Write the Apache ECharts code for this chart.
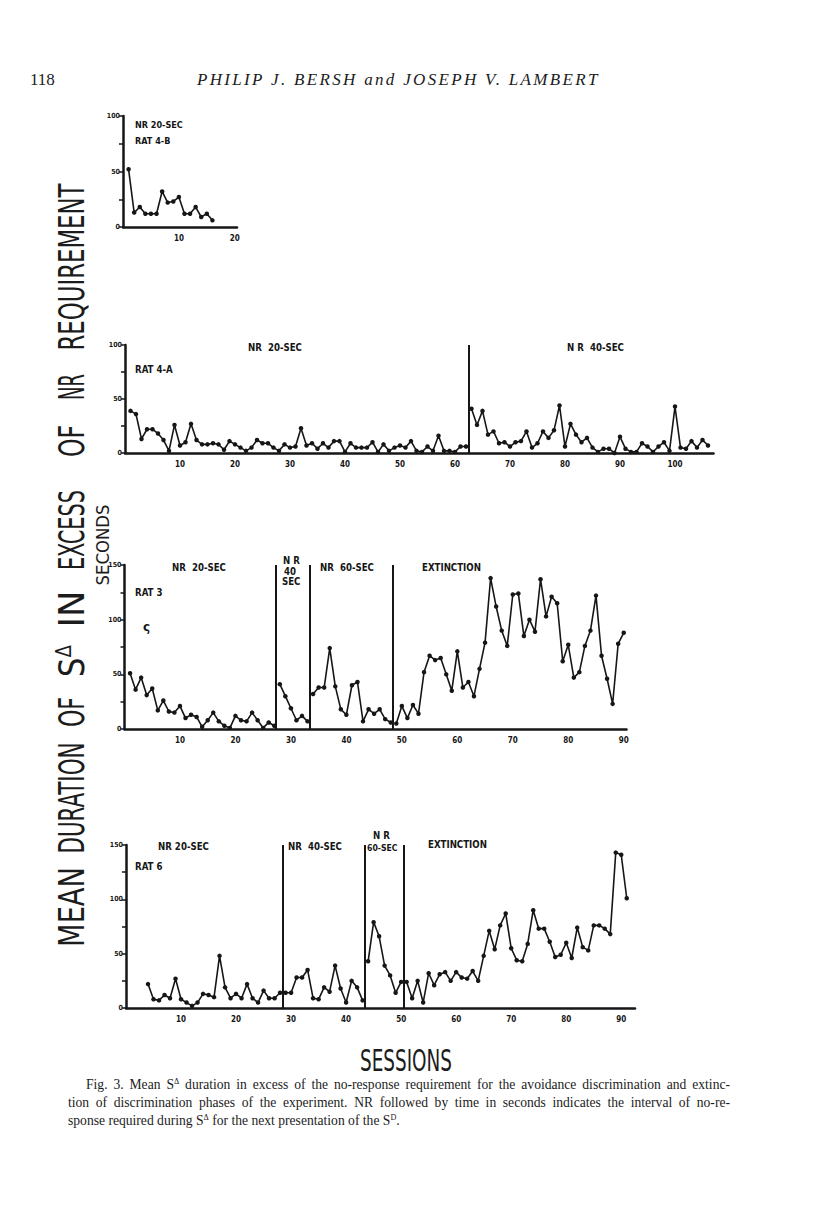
<!DOCTYPE html>
<html>
<head>
<meta charset="UTF-8">
<title>Fig. 3 - Mean S-delta duration</title>
<script src="https://cdn.jsdelivr.net/npm/echarts@6/dist/echarts.min.js"></script>
<style>
  body { margin: 0; background: #fff; }
  #page { position: relative; width: 816px; height: 1207px; overflow: hidden; background: #fff; }
  #main { position: absolute; left: 0; top: 0; width: 816px; height: 1207px; }
  .serif { position: absolute; white-space: nowrap; color: #1c1c1c;
           font-family: "Liberation Serif", "DejaVu Serif", serif; }
  .cond { position: absolute; white-space: nowrap; color: #1c1c1c;
          font-family: "Liberation Sans Narrow", "DejaVu Sans Condensed", "Liberation Sans", sans-serif; }
  .cap { font-size: 13.6px; line-height: 16px; text-align: justify; text-align-last: justify; }
  .cap sup, .sup { font-size: 0.6em; vertical-align: 0.6em; line-height: 0; }
</style>
</head>
<body>
<div id="page">
  <div id="main"></div>
  <div class="serif" style="left:30px;top:70px;font-size:17px;">118</div>
  <div class="serif" id="authors" style="left:197px;top:70px;font-size:17px;font-style:italic;">PHILIP J. BERSH and JOSEPH V. LAMBERT</div>
  <div class="cond" id="sessions" style="left:360px;top:1043px;font-size:30px;">SESSIONS</div>
  <div class="serif cap" style="left:86px;top:1077px;width:644px;">Fig. 3. Mean S<sup>Δ</sup> duration in excess of the no-response requirement for the avoidance discrimination and extinc-</div>
  <div class="serif cap" style="left:68px;top:1095px;width:662px;">tion of discrimination phases of the experiment. NR followed by time in seconds indicates the interval of no-re-</div>
  <div class="serif" style="left:68px;top:1113px;font-size:13.6px;line-height:16px;">sponse required during S<sup style="font-size:0.6em;vertical-align:0.6em;line-height:0">Δ</sup> for the next presentation of the S<sup style="font-size:0.6em;vertical-align:0.6em;line-height:0">D</sup>.</div>
</div>
<script type="text/javascript">
// sessions start numbers and mean S-delta duration (sec)
var rat4bStart = 1;
var rat4b = [52, 13, 18, 12, 12, 12, 32, 22, 23, 27, 12, 12, 18, 9, 12, 6];

var rat4aStart = 1;
var rat4a = [39, 36, 13, 22, 22, 18, 12, 2, 26, 7, 10, 27, 12, 8, 8, 9, 8, 3, 11, 8,
             5, 2, 5, 12, 9, 9, 5, 2, 8, 5, 6, 23, 7, 9, 4, 9, 5, 11, 11, 1,
             9, 5, 5, 5, 10, 1, 8, 2, 5, 7, 5, 11, 2, 1, 6, 2, 16, 2, 2, 1, 6, 6,
             41, 26, 39, 17, 20, 9, 10, 6, 10, 11, 20, 5, 9, 20, 14, 21, 44, 6, 27, 17,
             10, 14, 5, 1, 4, 4, 0, 15, 4, 1, 1, 9, 6, 1, 6, 10, 2, 43, 5, 4, 11, 5, 12, 7];
var rat4aBreaks = [62.5];

var rat3Start = 1;
var rat3 = [51, 36, 47, 31, 37, 17, 26, 16, 15, 21, 10, 13, 11, 2, 8, 15, 7, 3, 1, 12, 8, 7, 15, 8, 1, 6, 3,
            41, 30, 19, 8, 12, 7,
            32, 38, 38, 74, 39, 18, 13, 40, 43, 7, 18, 14, 18, 9, 6,
            5, 21, 10, 22, 14, 52, 67, 63, 65, 50, 35, 71, 38, 43, 30, 55, 79, 138, 112, 90,
            76, 123, 124, 85, 100, 89, 137, 103, 121, 115, 62, 77, 47, 52, 76, 90, 122, 67, 46, 23, 78, 88];
var rat3Breaks = [27.3, 33.4, 48.4];

var rat6Start = 4;
var rat6 = [22, 8, 7, 12, 9, 27, 8, 5, 2, 5, 13, 12, 10, 48, 19, 9, 13, 9, 22, 9, 5, 16, 9, 9, 14,
            14, 14, 28, 28, 35, 9, 8, 19, 15, 39, 18, 5, 25, 19, 7,
            43, 79, 66, 39, 30, 14, 24,
            24, 9, 25, 5, 32, 21, 31, 33, 25, 33, 28, 27, 34, 25, 48, 71, 54, 76, 87, 55,
            44, 43, 59, 90, 73, 73, 61, 47, 49, 60, 46, 74, 56, 53, 76, 76, 73, 68, 143, 141, 101];
var rat6Breaks = [28.4, 43.4, 50.4];

var ink = '#161616';
var handFont = '"Liberation Sans Narrow", "DejaVu Sans Condensed", "Liberation Sans", sans-serif';

// split a rat's sessions into phases so the line does not cross a phase boundary
function phases(start, vals, breaks) {
  var segs = [[]];
  var b = 0;
  vals.forEach(function (v, i) {
    var s = start + i;
    if (breaks && b < breaks.length && s > breaks[b]) { segs.push([]); b++; }
    segs[segs.length - 1].push([s, v]);
  });
  return segs;
}

function xAx(idx, max) {
  return {
    type: 'value', gridIndex: idx, min: 0, max: max, interval: 10,
    axisLine: { lineStyle: { color: ink, width: 2.5 } },
    axisTick: { show: false }, splitLine: { show: false },
    axisLabel: {
      color: ink, fontSize: 8, fontWeight: 'bold', fontFamily: handFont, margin: 7,
      formatter: function (v) { return (v > 0 && v % 10 === 0) ? String(v) : ''; }
    }
  };
}
function yAx(idx, max) {
  return {
    type: 'value', gridIndex: idx, min: 0, max: max, interval: 25,
    axisLine: { show: true, lineStyle: { color: ink, width: 2.5 } },
    axisTick: { show: true, length: 4, lineStyle: { color: ink, width: 1.5 } },
    splitLine: { show: false },
    axisLabel: {
      color: ink, fontSize: 7, fontWeight: 'bold', fontFamily: handFont, margin: 3,
      formatter: function (v) { return v % 50 === 0 ? String(v) : ''; }
    }
  };
}

var series = [];
function addRat(idx, start, vals, breaks) {
  phases(start, vals, breaks).forEach(function (seg, k) {
    var s = {
      type: 'line', xAxisIndex: idx, yAxisIndex: idx, data: seg,
      symbol: 'circle', symbolSize: 4.5, showSymbol: true,
      lineStyle: { color: ink, width: 1.6 }, itemStyle: { color: ink },
      silent: true
    };
    if (k === 0 && breaks && breaks.length) {
      s.markLine = {
        silent: true, symbol: ['none', 'none'], label: { show: false },
        lineStyle: { color: ink, width: 2, type: 'solid' },
        data: breaks.map(function (b) { return { xAxis: b }; })
      };
    }
    series.push(s);
  });
}
addRat(0, rat4bStart, rat4b, null);
addRat(1, rat4aStart, rat4a, rat4aBreaks);
addRat(2, rat3Start, rat3, rat3Breaks);
addRat(3, rat6Start, rat6, rat6Breaks);

function lab(text, x, y, size) {
  return { type: 'text', left: x, top: y, silent: true,
           style: { text: text, font: 'bold ' + (size || 9.6) + 'px ' + handFont, fill: ink } };
}

var myChart = echarts.init(document.getElementById('main'), null, { renderer: 'svg' });
var option = {
  animation: false,
  backgroundColor: 'transparent',
  grid: [
    { left: 123, top: 116, width: 114, height: 111 },
    { left: 125, top: 345, width: 588.5, height: 108 },
    { left: 124.5, top: 565, width: 502, height: 164 },
    { left: 126, top: 845, width: 509, height: 163 }
  ],
  xAxis: [xAx(0, 20.4), xAx(1, 107), xAx(2, 90.5), xAx(3, 92.5)],
  yAxis: [yAx(0, 100), yAx(1, 100), yAx(2, 150), yAx(3, 150)],
  series: series,
  graphic: {
    elements: [
      lab('NR 20-SEC', 135, 120, 9), lab('RAT 4-B', 135, 136, 9),
      lab('NR  20-SEC', 248, 342), lab('RAT 4-A', 135, 364), lab('N R  40-SEC', 567, 342),
      lab('NR  20-SEC', 172, 562), lab('N R', 283, 555), lab('40', 284, 566), lab('SEC', 282, 576),
      lab('NR  60-SEC', 320, 562), lab('EXTINCTION', 422, 562), lab('RAT 3', 135, 587),
      { type: 'text', left: 143, top: 621, silent: true, style: { text: 'ς', font: 'bold 12px "DejaVu Sans", sans-serif', fill: ink } },
      lab('NR 20-SEC', 158, 841), lab('NR  40-SEC', 288, 841), lab('N R', 373, 830), lab('60-SEC', 367, 843, 8.6),
      lab('EXTINCTION', 428, 839), lab('RAT 6', 135, 861)
    ]
  }
};
myChart.setOption(option);

// page lettering: rotated axis title, fitted to the lengths seen in the figure
var page = document.getElementById('page');
var titleWords = [
  ['MEAN', 867, 947], ['DURATION', 742, 853], ['OF', 697, 727], ['S<span class="sup">Δ</span>', 645, 677],
  ['IN', 590, 627], ['EXCESS', 490, 570], ['OF', 425, 457], ['NR', 374, 400], ['REQUIREMENT', 183, 350]
];
function rotWord(html, cx, y0, y1, size) {
  var el = document.createElement('div');
  el.className = 'cond';
  el.style.fontSize = size + 'px';
  el.style.lineHeight = '1';
  el.innerHTML = html;
  page.appendChild(el);
  var w = el.offsetWidth;
  var s = (y1 - y0) / w;
  el.style.left = cx + 'px';
  el.style.top = ((y0 + y1) / 2) + 'px';
  el.style.transform = 'translate(-50%,-50%) rotate(-90deg) scaleX(' + s + ')';
}
titleWords.forEach(function (t) { rotWord(t[0], 72, t[1], t[2], 36); });
rotWord('SECONDS', 103, 504, 585, 17);

// fit header and SESSIONS to their widths
var au = document.getElementById('authors');
var n = au.textContent.length;
au.style.letterSpacing = ((403 - au.offsetWidth) / n) + 'px';
var se = document.getElementById('sessions');
se.style.transformOrigin = '0 0';
se.style.transform = 'scaleX(' + (92 / se.offsetWidth) + ')';
</script>
</body>
</html>
